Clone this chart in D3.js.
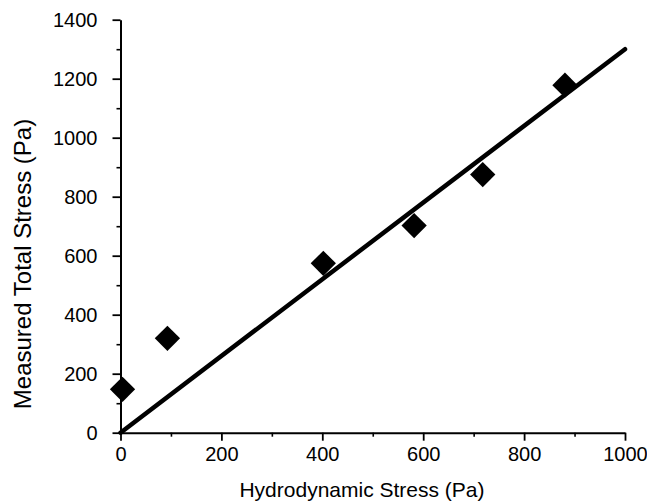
<!DOCTYPE html>
<html>
<head>
<meta charset="utf-8">
<script src="https://cdn.jsdelivr.net/npm/d3@7"></script>
<style>
  html, body { margin: 0; padding: 0; background: #fff; }
  svg { display: block; }
  .axis text { font-family: "Liberation Sans", Arial, Helvetica, sans-serif; font-size: 20px; fill: #000; }
  .title { font-family: "Liberation Sans", Arial, Helvetica, sans-serif; fill: #000; }
</style>
</head>
<body>
<svg id="chart" width="647" height="503"></svg>
<script>
// Measured data
const hydroStress = [4, 93, 402, 582, 718, 881];
const totalStress = [147, 320, 574, 702, 875, 1178];

// Fitted line end points
const fitX = [0, 1000];
const fitY = [0, 1300];

// Axis ticks
const xTicks = [0, 200, 400, 600, 800, 1000];
const xMinor = [100, 300, 500, 700, 900];
const yTicks = [0, 200, 400, 600, 800, 1000, 1200, 1400];
const yMinor = [100, 300, 500, 700, 900, 1100, 1300];

const svg = d3.select("#chart");

const x = d3.scaleLinear().domain([0, 1000]).range([120.5, 625]);
const y = d3.scaleLinear().domain([0, 1400]).range([432.7, 19.7]);

// minor ticks
svg.append("g")
  .attr("transform", `translate(0,${y(0)})`)
  .call(d3.axisBottom(x).tickValues(xMinor).tickSize(4).tickSizeOuter(0).tickFormat(""))
  .call(g => g.select(".domain").remove())
  .selectAll("line").attr("stroke", "#000").attr("stroke-width", 1.6);

svg.append("g")
  .attr("transform", `translate(${x(0)},0)`)
  .call(d3.axisLeft(y).tickValues(yMinor).tickSize(4).tickSizeOuter(0).tickFormat(""))
  .call(g => g.select(".domain").remove())
  .selectAll("line").attr("stroke", "#000").attr("stroke-width", 1.6);

// major axes
const xAxis = svg.append("g")
  .attr("class", "axis")
  .attr("transform", `translate(0,${y(0)})`)
  .call(d3.axisBottom(x).tickValues(xTicks).tickSize(8).tickSizeOuter(0).tickPadding(6).tickFormat(d3.format("d")));
xAxis.select(".domain").attr("stroke", "#000").attr("stroke-width", 2);
xAxis.selectAll(".tick line").attr("stroke", "#000").attr("stroke-width", 1.8);

const yAxis = svg.append("g")
  .attr("class", "axis")
  .attr("transform", `translate(${x(0)},0)`)
  .call(d3.axisLeft(y).tickValues(yTicks).tickSize(8).tickSizeOuter(0).tickPadding(15).tickFormat(d3.format("d")));
yAxis.select(".domain").attr("stroke", "#000").attr("stroke-width", 2);
yAxis.selectAll(".tick line").attr("stroke", "#000").attr("stroke-width", 1.8);

// fitted line
svg.append("path")
  .datum(fitX.map((v, i) => [v, fitY[i]]))
  .attr("fill", "none")
  .attr("stroke", "#000")
  .attr("stroke-width", 4.5)
  .attr("stroke-linecap", "round")
  .attr("d", d3.line().x(d => x(d[0])).y(d => y(d[1])));

// diamond markers
const diamond = d3.symbol().type(d3.symbolSquare).size(320);
svg.append("g")
  .selectAll("path")
  .data(hydroStress.map((v, i) => [v, totalStress[i]]))
  .join("path")
  .attr("d", diamond)
  .attr("fill", "#000")
  .attr("transform", d => `translate(${x(d[0])},${y(d[1])}) rotate(45)`);

// axis titles
svg.append("text")
  .attr("class", "title")
  .attr("x", 362)
  .attr("y", 497)
  .attr("text-anchor", "middle")
  .style("font-size", "21px")
  .text("Hydrodynamic Stress (Pa)");

svg.append("text")
  .attr("class", "title")
  .attr("transform", "translate(31,264) rotate(-90)")
  .attr("text-anchor", "middle")
  .style("font-size", "24px")
  .text("Measured Total Stress (Pa)");
</script>
</body>
</html>
